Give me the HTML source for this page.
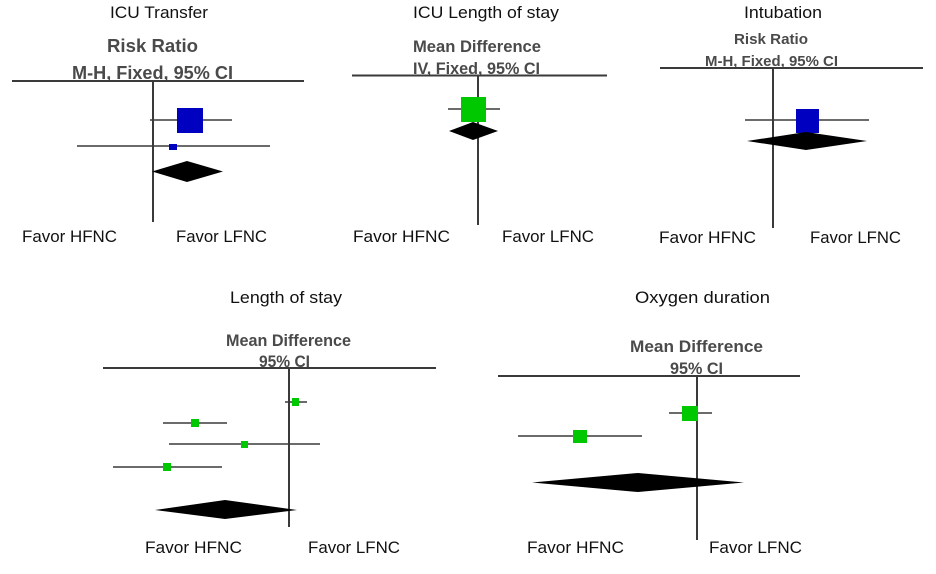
<!DOCTYPE html>
<html><head><meta charset="utf-8"><style>
html,body{margin:0;padding:0;background:#fff;}
svg{display:block;}
.t{font-family:"Liberation Sans",sans-serif;font-size:17px;fill:#111;}
.h{font-family:"Liberation Sans",sans-serif;font-weight:bold;fill:#4a4a4a;}
.ax{stroke:#3a3a3a;stroke-width:2;}
.ci{stroke:#3a3a3a;stroke-width:1.6;}
.b{fill:#0000c0;}
.g{fill:#00c800;}
</style></head><body>
<svg width="936" height="574" viewBox="0 0 936 574" xmlns="http://www.w3.org/2000/svg">
<!-- Panel 1: ICU Transfer -->
<text class="t" x="110" y="18" textLength="98" lengthAdjust="spacingAndGlyphs">ICU Transfer</text>
<text class="h" x="107" y="52" font-size="18" textLength="91" lengthAdjust="spacingAndGlyphs">Risk Ratio</text>
<text class="h" x="72" y="79" font-size="18" textLength="161" lengthAdjust="spacingAndGlyphs">M-H, Fixed, 95% CI</text>
<line class="ax" x1="12" y1="81" x2="304" y2="81"/>
<line class="ax" x1="153" y1="81" x2="153" y2="222"/>
<line class="ci" x1="150" y1="120" x2="232" y2="120"/>
<rect class="b" x="177" y="108" width="26" height="25"/>
<line class="ci" x1="77" y1="146" x2="270" y2="146"/>
<rect class="b" x="169" y="144" width="8" height="6"/>
<polygon points="152,171.5 187,161 223,171.5 187,182" fill="#000"/>
<text class="t" x="22" y="242" textLength="95" lengthAdjust="spacingAndGlyphs">Favor HFNC</text>
<text class="t" x="176" y="242" textLength="91" lengthAdjust="spacingAndGlyphs">Favor LFNC</text>

<!-- Panel 2: ICU Length of stay -->
<text class="t" x="413" y="18" textLength="146" lengthAdjust="spacingAndGlyphs">ICU Length of stay</text>
<text class="h" x="413" y="52" font-size="17" textLength="128" lengthAdjust="spacingAndGlyphs">Mean Difference</text>
<text class="h" x="413" y="74" font-size="17" textLength="127" lengthAdjust="spacingAndGlyphs">IV, Fixed, 95% CI</text>
<line class="ax" x1="352" y1="75.5" x2="607" y2="75.5"/>
<line class="ax" x1="478" y1="76" x2="478" y2="225"/>
<line class="ci" x1="448" y1="109" x2="500" y2="109"/>
<rect class="g" x="461" y="97" width="25" height="25"/>
<polygon points="449,131 473,122 498,131 473,140" fill="#000"/>
<text class="t" x="353" y="242" textLength="97" lengthAdjust="spacingAndGlyphs">Favor HFNC</text>
<text class="t" x="502" y="242" textLength="92" lengthAdjust="spacingAndGlyphs">Favor LFNC</text>

<!-- Panel 3: Intubation -->
<text class="t" x="744" y="18" textLength="78" lengthAdjust="spacingAndGlyphs">Intubation</text>
<text class="h" x="734" y="44" font-size="15" textLength="74" lengthAdjust="spacingAndGlyphs">Risk Ratio</text>
<text class="h" x="705" y="66" font-size="15" textLength="133" lengthAdjust="spacingAndGlyphs">M-H, Fixed, 95% CI</text>
<line class="ax" x1="660" y1="68" x2="923" y2="68"/>
<line class="ax" x1="773" y1="68" x2="773" y2="228"/>
<line class="ci" x1="745" y1="120" x2="869" y2="120"/>
<rect class="b" x="796" y="109" width="23" height="24"/>
<polygon points="747,141 806,132 867,141 806,150" fill="#000"/>
<text class="t" x="659" y="243" textLength="97" lengthAdjust="spacingAndGlyphs">Favor HFNC</text>
<text class="t" x="810" y="243" textLength="91" lengthAdjust="spacingAndGlyphs">Favor LFNC</text>

<!-- Panel 4: Length of stay -->
<text class="t" x="230" y="303" textLength="112" lengthAdjust="spacingAndGlyphs">Length of stay</text>
<text class="h" x="226" y="346" font-size="17" textLength="125" lengthAdjust="spacingAndGlyphs">Mean Difference</text>
<text class="h" x="259" y="367" font-size="17" textLength="51" lengthAdjust="spacingAndGlyphs">95% CI</text>
<line class="ax" x1="103" y1="368" x2="436" y2="368"/>
<line class="ax" x1="289" y1="368" x2="289" y2="527"/>
<line class="ci" x1="285" y1="402" x2="307" y2="402"/>
<rect class="g" x="292" y="398" width="7" height="8"/>
<line class="ci" x1="163" y1="423" x2="227" y2="423"/>
<rect class="g" x="191" y="419" width="8" height="8"/>
<line class="ci" x1="169" y1="444" x2="320" y2="444"/>
<rect class="g" x="241" y="441" width="7" height="7"/>
<line class="ci" x1="113" y1="467" x2="222" y2="467"/>
<rect class="g" x="163" y="463" width="8" height="8"/>
<polygon points="155,510 225,500 297,510 225,519" fill="#000"/>
<text class="t" x="145" y="553" textLength="97" lengthAdjust="spacingAndGlyphs">Favor HFNC</text>
<text class="t" x="308" y="553" textLength="92" lengthAdjust="spacingAndGlyphs">Favor LFNC</text>

<!-- Panel 5: Oxygen duration -->
<text class="t" x="635" y="303" textLength="135" lengthAdjust="spacingAndGlyphs">Oxygen duration</text>
<text class="h" x="630" y="352" font-size="17" textLength="133" lengthAdjust="spacingAndGlyphs">Mean Difference</text>
<text class="h" x="670" y="374" font-size="17" textLength="53" lengthAdjust="spacingAndGlyphs">95% CI</text>
<line class="ax" x1="498" y1="376" x2="800" y2="376"/>
<line class="ax" x1="697" y1="376" x2="697" y2="540"/>
<line class="ci" x1="669" y1="413" x2="712" y2="413"/>
<rect class="g" x="682" y="406" width="16" height="15"/>
<line class="ci" x1="518" y1="436" x2="642" y2="436"/>
<rect class="g" x="573" y="430" width="14" height="13"/>
<polygon points="532,482.5 638,473 744,482.5 638,492" fill="#000"/>
<text class="t" x="527" y="553" textLength="97" lengthAdjust="spacingAndGlyphs">Favor HFNC</text>
<text class="t" x="709" y="553" textLength="93" lengthAdjust="spacingAndGlyphs">Favor LFNC</text>
</svg>
</body></html>
